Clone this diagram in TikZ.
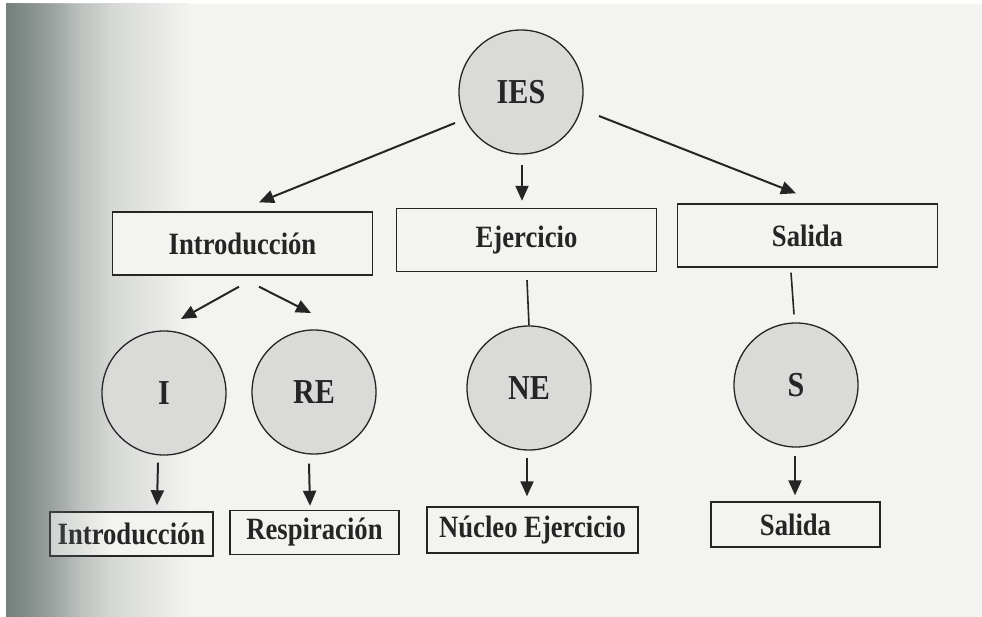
\documentclass[tikz,border=0pt]{standalone}
\usepackage{fontspec}
\setmainfont{Liberation Serif}[FakeStretch=0.86]
\usetikzlibrary{arrows.meta,calc,fadings}
\definecolor{paper}{HTML}{F3F3F0}
\definecolor{edge}{HTML}{76817D}
\definecolor{midedge}{HTML}{C9CDCA}
\definecolor{ink}{HTML}{252525}
\definecolor{disc}{HTML}{DADAD8}
\tikzset{
  bubble/.style={circle,draw=ink,line width=1.3pt,fill=disc,minimum size=124pt,inner sep=0pt,
    font=\fontsize{35}{37}\selectfont\bfseries,text=ink},
  topbox/.style={rectangle,draw=ink,line width=1.4pt,fill=paper,minimum width=260pt,minimum height=63pt,
    font=\fontsize{31}{33}\selectfont\bfseries,text=ink},
  lowbox/.style={rectangle,draw=ink,line width=1.4pt,fill=paper,minimum height=44pt,inner sep=0pt,
    font=\fontsize{31}{33}\selectfont\bfseries,text=ink},
  arr/.style={draw=ink,line width=2pt,-{Triangle[length=15pt,width=13pt]}},
  plain/.style={draw=ink,line width=1.6pt}
}
\begin{document}
\begin{tikzpicture}[x=1pt,y=-1pt]
\useasboundingbox (0,0) rectangle (982,617);
\fill[white] (0,0) rectangle (982,617);
\fill[paper] (6,4) rectangle (982,617);
\shade[left color=edge,right color=midedge] (6,4) rectangle (80,617);
\shade[left color=midedge,right color=paper] (80,4) rectangle (190,617);

% circles
\node[bubble] (ies) at (521,92) {IES};
\node[bubble] (i)   at (164,393) {I};
\node[bubble] (re)  at (314,392) {RE};
\node[bubble] (ne)  at (529,388) {NE};
\node[bubble] (s)   at (796,385) {S};

% top boxes
\node[topbox] (intro) at (242.5,243.5) {Introducción};
\node[topbox] (ejer)  at (526.5,240) {Ejercicio};
\node[topbox] (sal)   at (807.5,235.5) {Salida};

% bottom boxes
\node[lowbox,minimum width=163pt] (intro2) at (131.5,534) {Introducción};
\node[lowbox,minimum width=169pt] (resp)   at (314.5,532.5) {Respiración};
\node[lowbox,minimum width=211pt,minimum height=46pt] (nucleo) at (532.5,530) {Núcleo Ejercicio};
\node[lowbox,minimum width=169pt,minimum height=45pt] (sal2)   at (795.5,524.5) {Salida};

% connectors
\draw[arr] ($(ies.center)+(-66,31)$) -- ($(intro.north)+(16.5,-9)$);
\draw[arr] ($(ies.center)+(1,73)$) -- ($(ejer.north)+(-4.5,-7)$);
\draw[arr] ($(ies.center)+(78,24)$) -- ($(sal.north)+(-11.5,-10)$);
\draw[arr] ($(intro.south)+(-3.5,11)$) -- ($(i.center)+(17,-74)$);
\draw[arr] ($(intro.south)+(16.5,11)$) -- ($(re.center)+(-3,-79)$);
\draw[plain] ($(ejer.south)+(0.5,8)$) -- (ne.north);
\draw[plain] ($(sal.south)+(-16.5,5)$) -- ($(s.north)+(-2,-8)$);
\draw[arr] ($(i.south)+(-6,7)$) -- ($(intro2.north)+(25.5,-6)$);
\draw[arr] ($(re.south)+(-5,9)$) -- ($(resp.north)+(-4.5,-4)$);
\draw[arr] ($(ne.south)+(-2,7)$) -- ($(nucleo.north)+(-5.5,-10)$);
\draw[arr] ($(s.south)+(-1,8)$) -- ($(sal2.north)+(-0.5,-6)$);

% overlay darkening of the scanned left edge
\fill[edge,path fading=east,fill opacity=0.5] (6,4) rectangle (110,617);
\end{tikzpicture}
\end{document}
